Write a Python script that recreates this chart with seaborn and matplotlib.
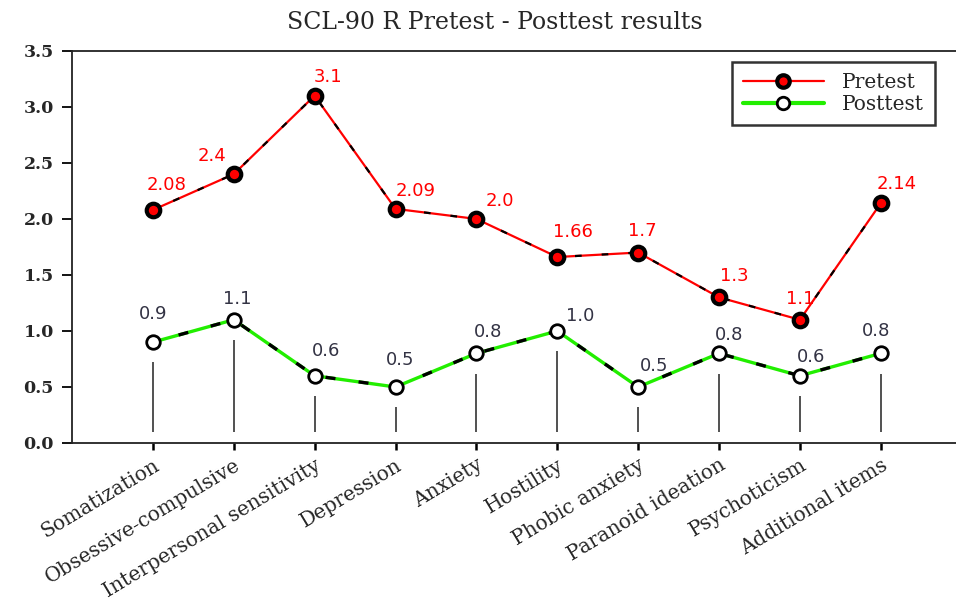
import pandas as pd
import matplotlib
matplotlib.use("Agg")
import matplotlib.pyplot as plt
import seaborn as sns

# data
categories = ["Somatization", "Obsessive-compulsive", "Interpersonal sensitivity",
              "Depression", "Anxiety", "Hostility", "Phobic anxiety",
              "Paranoid ideation", "Psychoticism", "Additional items"]
pretest = [2.08, 2.4, 3.1, 2.09, 2.0, 1.66, 1.7, 1.3, 1.1, 2.14]
posttest = [0.9, 1.1, 0.6, 0.5, 0.8, 1.0, 0.5, 0.8, 0.6, 0.8]
pre_labels = ["2.08", "2.4", "3.1", "2.09", "2.0", "1.66", "1.7", "1.3", "1.1", "2.14"]
post_labels = ["0.9", "1.1", "0.6", "0.5", "0.8", "1.0", "0.5", "0.8", "0.6", "0.8"]
yticks = [0.0, 0.5, 1.0, 1.5, 2.0, 2.5, 3.0, 3.5]

# label placement (pixels from point)
pre_off = [(14, 25), (-22, 18), (13, 19), (20, 18), (23, 18), (16, 25), (4, 22), (15, 21), (0, 21), (16, 19)]
post_off = [(0, 28), (4, 21), (11, 25), (5, 27), (12, 21), (23, 15), (16, 21), (10, 18), (11, 19), (-5, 22)]

df = pd.DataFrame({"pos": range(len(categories)), "Pretest": pretest, "Posttest": posttest})

sns.set_style("white")
serif = ["DejaVu Serif"]

fig = plt.figure(figsize=(9.56, 6.06), dpi=100)
ax = fig.add_axes([0.0753, 0.269, 0.9247, 0.647])

# thin drop lines under the posttest points
ax.vlines(df["pos"], 0.1, df["Posttest"] - 0.18, color="#333333", lw=1.2, zorder=1)

# coloured lines with black dash overlay
sns.lineplot(data=df, x="pos", y="Pretest", color="red", lw=1.6, ax=ax, zorder=2)
sns.lineplot(data=df, x="pos", y="Pretest", color="black", lw=1.6, ax=ax, zorder=3,
             linestyle=(2, (3, 9)))
sns.lineplot(data=df, x="pos", y="Posttest", color="#22ee00", lw=2.4, ax=ax, zorder=2)
sns.lineplot(data=df, x="pos", y="Posttest", color="black", lw=2.4, ax=ax, zorder=3,
             linestyle=(2, (3, 7)))

# markers
ax.scatter(df["pos"], df["Pretest"], s=95, c="red", edgecolors="black", linewidths=3, zorder=5)
ax.scatter(df["pos"], df["Posttest"], s=95, c="white", edgecolors="black", linewidths=2, zorder=5)

for i in range(len(categories)):
    ax.annotate(pre_labels[i], (i, pretest[i]), xytext=pre_off[i], textcoords="offset pixels",
                ha="center", va="center", color="red", fontsize=13, family="DejaVu Sans")
    ax.annotate(post_labels[i], (i, posttest[i]), xytext=post_off[i], textcoords="offset pixels",
                ha="center", va="center", color="#333344", fontsize=13, family="DejaVu Sans")

# legend handles
ax.plot([], [], color="red", lw=1.6, marker="o", ms=9, mfc="red", mec="black", mew=3, label="Pretest")
ax.plot([], [], color="#22ee00", lw=3, marker="o", ms=9, mfc="white", mec="black", mew=2, label="Posttest")
leg = ax.legend(loc="upper right", bbox_to_anchor=(0.976, 0.972), fancybox=False, frameon=True,
                edgecolor="black", handlelength=4.0, borderpad=0.55, labelspacing=0.15,
                handletextpad=0.9, borderaxespad=0,
                prop={"family": serif, "size": 14.5}, shadow=False)
leg.get_frame().set_linewidth(1.8)

ax.set_xlim(-1, 9.93)
ax.set_ylim(0, 3.5)
ax.set_yticks(yticks)
ax.set_yticklabels([f"{v:.1f}" for v in yticks], family=serif, fontweight="bold", fontsize=12.5)
ax.set_xticks(df["pos"])
ax.set_xticklabels(categories, rotation=31, ha="right", rotation_mode="anchor",
                   family=serif, fontsize=14.5)
ax.set_xlabel("")
ax.set_ylabel("")
ax.tick_params(axis="y", direction="out", length=7, width=1.3, color="black", left=True, pad=6)
ax.tick_params(axis="x", direction="out", length=5, width=1.8, color="black", bottom=True, pad=4)
for side in ["left", "bottom", "top"]:
    ax.spines[side].set_color("#222222")
    ax.spines[side].set_linewidth(1.3)
ax.spines["right"].set_visible(False)

fig.suptitle("SCL-90 R Pretest - Posttest results", x=0.518, y=0.982, va="top",
             family=serif, fontsize=17)

fig.savefig("out.png", dpi=100)
